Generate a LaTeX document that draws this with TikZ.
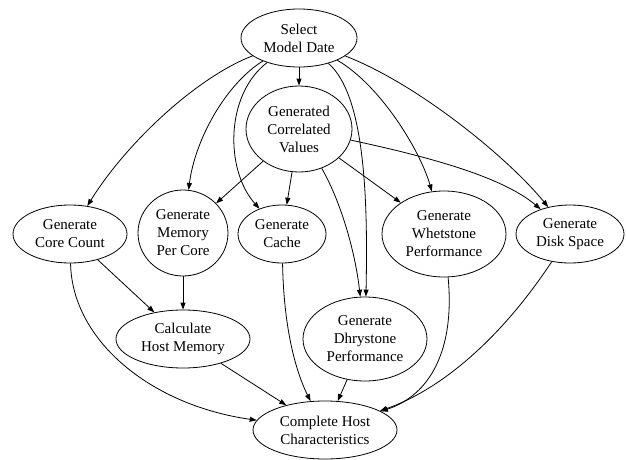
\documentclass[tikz,border=0pt]{standalone}
\usepackage{fontspec}
\setmainfont{Liberation Serif}
\usetikzlibrary{shapes.geometric,arrows.meta}

\tikzset{
    proc node/.style={
      ellipse,
      draw=black,
      line width=0.8pt,
      inner sep=0pt,
      align=center,
      font=\fontsize{15}{18}\selectfont
    },
    flow edge/.style={
      draw=black,
      line width=0.8pt,
      -{Triangle[length=7pt,width=5pt]}
    }
  }

\begin{document}
\begin{tikzpicture}[x=1pt,y=-1pt]
      \useasboundingbox (0,0) rectangle (626,460);

      % ノード
      \node[proc node, minimum width=116pt, minimum height=58pt] (sel) at (299,38) {Select\\Model Date};
      \node[proc node, minimum width=106pt, minimum height=86pt] (corr) at (299,129) {Generated\\Correlated\\Values};
      \node[proc node, minimum width=114pt, minimum height=58pt] (core) at (70,234) {Generate\\Core Count};
      \node[proc node, minimum width=90pt, minimum height=86pt] (mem) at (183,233) {Generate\\Memory\\Per Core};
      \node[proc node, minimum width=88pt, minimum height=58pt] (cache) at (282,234) {Generate\\Cache};
      \node[proc node, minimum width=124pt, minimum height=86pt] (whet) at (444,234) {Generate\\Whetstone\\Performance};
      \node[proc node, minimum width=108pt, minimum height=58pt] (disk) at (570,234) {Generate\\Disk Space};
      \node[proc node, minimum width=134pt, minimum height=58pt] (calc) at (183,339) {Calculate\\Host Memory};
      \node[proc node, minimum width=124pt, minimum height=84pt] (dhry) at (365,339) {Generate\\Dhrystone\\Performance};
      \node[proc node, minimum width=144pt, minimum height=58pt] (host) at (325,430) {Complete Host\\Characteristics};

      % 矢印（上段）
      \draw[flow edge] (sel) -- (corr);
      \draw[flow edge] (sel) .. controls (195,78) and (125,145) .. (core);
      \draw[flow edge] (sel) .. controls (225,85) and (195,140) .. (mem);
      \draw[flow edge] (sel) .. controls (225,95) and (225,170) .. (cache);
      \draw[flow edge] (sel) .. controls (365,95) and (368,200) .. (dhry);
      \draw[flow edge] (sel) .. controls (380,85) and (420,150) .. (whet);
      \draw[flow edge] (sel) .. controls (420,85) and (510,160) .. (disk);

      % 矢印（中段）
      \draw[flow edge] (corr) -- (mem);
      \draw[flow edge] (corr) -- (cache);
      \draw[flow edge] (corr) -- (whet);
      \draw[flow edge] (corr) .. controls (340,200) and (355,250) .. (dhry);
      \draw[flow edge] (corr) .. controls (420,155) and (500,175) .. (disk);

      % 矢印（下段）
      \draw[flow edge] (core) -- (calc);
      \draw[flow edge] (mem) -- (calc);
      \draw[flow edge] (core) .. controls (72,340) and (150,405) .. (host);
      \draw[flow edge] (calc) -- (host);
      \draw[flow edge] (cache) .. controls (284,340) and (300,380) .. (host);
      \draw[flow edge] (dhry) -- (host);
      \draw[flow edge] (whet) .. controls (455,350) and (430,395) .. (host);
      \draw[flow edge] (disk) .. controls (500,340) and (440,390) .. (host);
    \end{tikzpicture}
\end{document}
